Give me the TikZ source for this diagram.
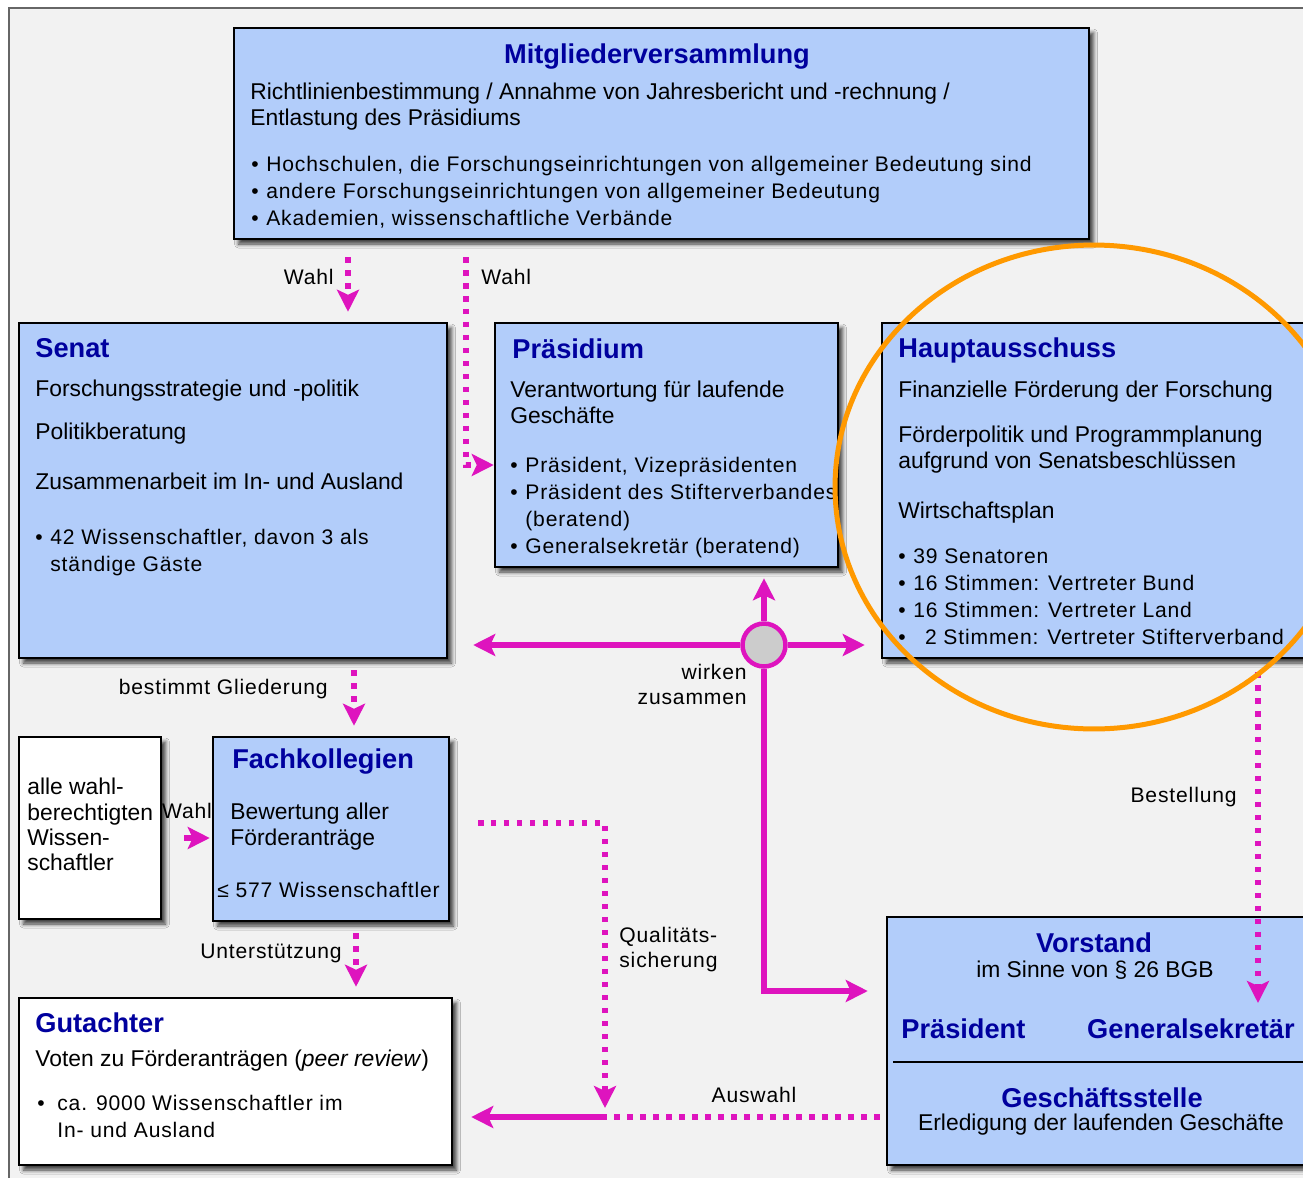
\documentclass[tikz,border=0pt]{standalone}
\usepackage{fontspec}
\setmainfont{Liberation Sans}
\newfontfamily\spaced[LetterSpace=4]{Liberation Sans}
\usetikzlibrary{positioning,fit,arrows.meta,shadows.blur}
\definecolor{boxblue}{RGB}{178,205,250}
\definecolor{headblue}{RGB}{0,0,158}
\definecolor{linkmag}{RGB}{222,20,190}
\definecolor{bggray}{RGB}{242,242,242}
\definecolor{ringorange}{RGB}{255,153,0}
\newcommand{\bul}[1][0.3cm]{\makebox[#1][l]{\textbullet}}

\begin{document}
\begin{tikzpicture}[x=0.02cm,y=-0.02cm,
  box/.style={draw,line width=0.05cm,fill=boxblue,inner sep=0pt,
    blur shadow={shadow xshift=0.09cm,shadow yshift=-0.1cm,shadow blur radius=0.08cm,shadow blur steps=5,shadow opacity=75}},
  whitebox/.style={box,fill=white},
  hdr/.style={inner sep=0pt,text=headblue,font=\fontsize{15.5}{18}\selectfont\bfseries},
  txt/.style={inner sep=0pt,anchor=north west,align=left,font=\fontsize{13}{14.3}\selectfont},
  items/.style={txt,font=\fontsize{12}{15.4}\selectfont\spaced},
  lbl/.style={inner sep=0pt,align=left,font=\fontsize{12}{14.3}\selectfont\spaced},
  link/.style={linkmag,line width=0.11cm},
  dotlink/.style={link,dash pattern=on 0.11cm off 0.15cm},
  pointer/.style={-{Stealth[length=0.44cm,width=0.44cm,inset=0.1cm]}}]

\clip (0,0) rectangle (1303,1178);
\fill[white] (0,0) rectangle (1303,1178);
\fill[bggray] (9,8) rectangle (1303,1178);
\draw[black!60,line width=0.05cm] (9,1178) -- (9,8) -- (1303,8);

\node[box,fit={(234,28)(1089,239)}] (mv) {};
\node[box,fit={(19,323)(447,658)}] (senat) {};
\node[box,fit={(495,323)(838,567)}] (praes) {};
\node[box,fit={(882,323)(1340,658)}] (haupt) {};
\node[whitebox,fit={(19,737)(161,919)}] (alle) {};
\node[box,fit={(213,737)(449,921)}] (fach) {};
\node[whitebox,fit={(19,998)(452,1165)}] (gut) {};
\node[box,fit={(887,917)(1340,1165)}] (vorst) {};
\draw[line width=0.04cm] (893,1062) -- (vorst.east |- 0,1062);

\node[hdr,anchor=north] (mvh) at (657,43) {Mitgliederversammlung};
\node[txt] (mvt) at (250,83) {Richtlinienbestimmung / Annahme von Jahresbericht und -rechnung /\\Entlastung des Präsidiums};
\node[items] (mvl) at (251,156) {\bul Hochschulen, die Forschungseinrichtungen von allgemeiner Bedeutung sind\\\bul andere Forschungseinrichtungen von allgemeiner Bedeutung\\\bul Akademien, wissenschaftliche Verbände};

\node[hdr,anchor=north west] (senath) at (35,338) {Senat};
\node[txt] (senat1) at (35,380) {Forschungsstrategie und -politik};
\node[txt] (senat2) at (35,423) {Politikberatung};
\node[txt] (senat3) at (35,473) {Zusammenarbeit im In- und Ausland};
\node[items] (senatl) at (35,529) {\bul 42 Wissenschaftler, davon 3 als\\\hspace{0.3cm}ständige Gäste};

\node[hdr,anchor=north west] (praesh) at (512,338) {Präsidium};
\node[txt] (praes1) at (510,381) {Verantwortung für laufende\\Geschäfte};
\node[items] (praesl) at (510,457) {\bul Präsident, Vizepräsidenten\\\bul Präsident des Stifterverbandes\\\hspace{0.3cm}(beratend)\\\bul Generalsekretär (beratend)};

\node[hdr,anchor=north west] (haupth) at (898,337) {Hauptausschuss};
\node[txt] (haupt1) at (898,381) {Finanzielle Förderung der Forschung};
\node[txt] (haupt2) at (898,426) {Förderpolitik und Programmplanung\\aufgrund von Senatsbeschlüssen};
\node[txt] (haupt3) at (898,502) {Wirtschaftsplan};
\node[items] (hauptl) at (898,548) {\bul 39 Senatoren\\\bul 16 Stimmen: Vertreter Bund\\\bul 16 Stimmen: Vertreter Land\\\bul \hphantom{1}2 Stimmen: Vertreter Stifterverband};

\node[txt] (allet) at (27,778) {alle wahl-\\berechtigten\\Wissen-\\schaftler};

\node[hdr,anchor=north west] (fachh) at (232,748) {Fachkollegien};
\node[txt] (fach1) at (230,803) {Bewertung aller\\Förderanträge};
\node[items] (fach2) at (217,882) {≤ 577 Wissenschaftler};

\node[hdr,anchor=north west] (guth) at (35,1012) {Gutachter};
\node[txt] (gut1) at (35,1050) {Voten zu Förderanträgen (\textit{peer review})};
\node[items] (gutl) at (37,1095) {\bul[0.4cm]ca. 9000 Wissenschaftler im\\\hspace{0.4cm}In- und Ausland};

\node[hdr,anchor=north] (vorsth) at (1094,932) {Vorstand};
\node[txt,anchor=north] (vorst1) at (1095,961) {im Sinne von § 26 BGB};
\node[hdr,anchor=north west] (vorstp) at (901,1018) {Präsident};
\node[hdr,anchor=north east] (vorstg) at (1295,1018) {Generalsekretär};
\node[hdr,anchor=north] (gsh) at (1102,1087) {Geschäftsstelle};
\node[txt,anchor=north] (gs1) at (1101,1114) {Erledigung der laufenden Geschäfte};

\node[circle,draw=linkmag,line width=0.09cm,fill=black!20,minimum size=0.86cm,inner sep=0pt] (hub) at (764,645) {};
\foreach \dest/\gap in {{hub -| senat.east}/0.5cm, {hub -| haupt.west}/0.32cm, {hub |- praes.south}/0.2cm} {
    \draw[link,pointer,shorten >=\gap] (hub) -- (\dest);
}
\coordinate (vorstin) at (vorst.west |- 0,991);
\draw[link,pointer,shorten >=0.36cm] (hub) |- (vorstin);
\node[lbl,align=right,anchor=north east] (wirken) at (747,664) {wirken\\zusammen};

\coordinate (mvw1) at (348,257);
\coordinate (senatout) at (354,670);
\coordinate (fachout) at (356,933);
\foreach \from/\to in {mvw1/senat.north, senatout/fach.north, fachout/gut.north} {
    \draw[dotlink,pointer,shorten >=0.2cm] (\from) -- (\from |- \to);
}
\node[lbl,anchor=east] (wahl1) at (334,277) {Wahl};
\node[lbl,anchor=east] (gliederung) at (328,689) {bestimmt Gliederung};
\node[lbl,anchor=east] (unterst) at (342,953) {Unterstützung};

\coordinate (mvw2) at (466,257);
\coordinate (praesin) at (praes.west |- 0,465);
\draw[dotlink,pointer] (mvw2) |- (praesin);
\node[lbl,anchor=west] (wahl2) at (481,277) {Wahl};

\draw[link,pointer] ([shift={(22,10)}]alle.east) -- ([shift={(-2,9)}]fach.west);
\node[lbl] (wahl3) at (187,811) {Wahl};

\coordinate (qs) at (478,823);
\coordinate (qa) at (605,1117);
\draw[dotlink,pointer,shorten >=0.18cm] (qs) -| (qa);
\node[lbl,anchor=north west] (qualitaet) at (619,927) {Qualitäts-\\sicherung};
\draw[dotlink,shorten <=0.12cm] (vorst.west |- qa) -- (qa);
\draw[link,pointer,shorten >=0.36cm] (qa) -- (gut.east |- qa);
\node[lbl] (auswahl) at (754,1095) {Auswahl};

\coordinate (hauptout) at (1258,672);
\coordinate (vorstgs) at (1258,1003);
\draw[dotlink,pointer] (hauptout) -- (vorstgs);
\node[lbl,anchor=east] (bestellung) at (1237,797) {Bestellung};

\draw[ringorange,line width=0.1cm] (1094,487) ellipse [x radius=5.18cm, y radius=4.84cm];
\end{tikzpicture}
\end{document}
